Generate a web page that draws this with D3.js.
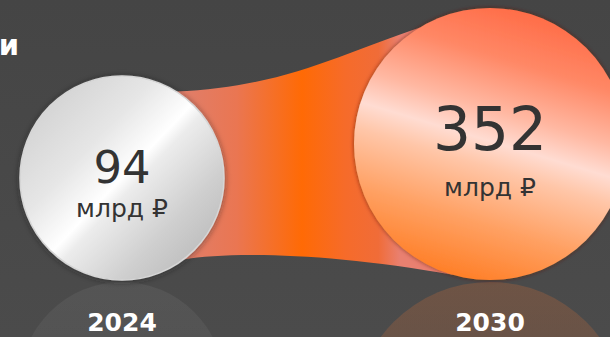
<!DOCTYPE html>
<html>
<head>
<meta charset="utf-8">
<script src="https://cdn.jsdelivr.net/npm/d3@7"></script>
<style>
  html, body { margin: 0; padding: 0; background: #474747; }
  svg { display: block; }
  text { font-family: "DejaVu Sans", Verdana, sans-serif; }
</style>
</head>
<body>
<svg id="chart" width="610" height="337"></svg>
<script>
// Market volume, billions of rubles
const years = ["2024", "2030"];
const values = [94, 352];
const unitLabel = "млрд ₽";
const titleTail = "и";

const W = 610, H = 337;
const svg = d3.select("#chart");
const defs = svg.append("defs");

// background
const bg = defs.append("linearGradient").attr("id", "bg")
  .attr("x1", 0).attr("y1", 0).attr("x2", 0).attr("y2", 1);
bg.append("stop").attr("offset", 0).attr("stop-color", "#454545");
bg.append("stop").attr("offset", 1).attr("stop-color", "#4b4b4b");
svg.append("rect").attr("width", W).attr("height", H).attr("fill", "url(#bg)");

// scales
const x = d3.scalePoint().domain(years).range([122, 490]);
const r = d3.scaleLinear().domain([94, 352]).range([102, 136]);
const floorY = 280; // circles rest on this line

const nodes = years.map((y, i) => ({
  year: y, value: values[i], cx: x(y), r: r(values[i]), cy: floorY - r(values[i])
}));

// gradients
const silver = defs.append("linearGradient").attr("id", "silver")
  .attr("x1", 0.1).attr("y1", 0.12).attr("x2", 0.9).attr("y2", 0.88);
[[0, "#d2d2d2"], [0.3, "#e6e6e6"], [0.47, "#fbfbfb"], [0.5, "#ffffff"],
 [0.56, "#ececec"], [0.8, "#cfcfcf"], [1, "#bdbdbd"]]
  .forEach(([o, c]) => silver.append("stop").attr("offset", o).attr("stop-color", c));

const coral = defs.append("linearGradient").attr("id", "coral")
  .attr("x1", 0.65).attr("y1", 0).attr("x2", 0.35).attr("y2", 1);
[[0, "#ff6a45"], [0.2, "#ff8866"], [0.38, "#ffb8a2"], [0.49, "#ffdcd2"],
 [0.58, "#ffc6a8"], [0.78, "#ffa062"], [1, "#ff7c22"]]
  .forEach(([o, c]) => coral.append("stop").attr("offset", o).attr("stop-color", c));

const band = defs.append("linearGradient").attr("id", "band")
  .attr("gradientUnits", "userSpaceOnUse")
  .attr("x1", nodes[0].cx + 60).attr("y1", 0).attr("x2", nodes[1].cx - 90).attr("y2", 0);
[[0, "#e07e6a"], [0.25, "#ea7652"], [0.55, "#ff6a05"], [0.75, "#f66b2a"], [0.9, "#f06c38"], [1, "#e98070"]]
  .forEach(([o, c]) => band.append("stop").attr("offset", o).attr("stop-color", c));

const reflGrey = defs.append("linearGradient").attr("id", "reflGrey")
  .attr("x1", 0).attr("y1", 0).attr("x2", 0).attr("y2", 1);
reflGrey.append("stop").attr("offset", 0).attr("stop-color", "#ffffff").attr("stop-opacity", 0.06);
reflGrey.append("stop").attr("offset", 0.5).attr("stop-color", "#ffffff").attr("stop-opacity", 0.035);
reflGrey.append("stop").attr("offset", 1).attr("stop-color", "#ffffff").attr("stop-opacity", 0);

const reflOrange = defs.append("linearGradient").attr("id", "reflOrange")
  .attr("x1", 0).attr("y1", 0).attr("x2", 0).attr("y2", 1);
reflOrange.append("stop").attr("offset", 0).attr("stop-color", "#ff7a30").attr("stop-opacity", 0.2);
reflOrange.append("stop").attr("offset", 0.5).attr("stop-color", "#ff7a30").attr("stop-opacity", 0.12);
reflOrange.append("stop").attr("offset", 1).attr("stop-color", "#ff7a30").attr("stop-opacity", 0);

const sh1 = defs.append("filter").attr("id", "shSilver")
  .attr("x", "-20%").attr("y", "-20%").attr("width", "140%").attr("height", "140%");
sh1.append("feDropShadow").attr("dx", 0).attr("dy", 1).attr("stdDeviation", 3)
  .attr("flood-color", "#202020").attr("flood-opacity", 0.55);
const sh2 = defs.append("filter").attr("id", "shCoral")
  .attr("x", "-20%").attr("y", "-20%").attr("width", "140%").attr("height", "140%");
sh2.append("feDropShadow").attr("dx", 0).attr("dy", 0).attr("stdDeviation", 2)
  .attr("flood-color", "#5a1e10").attr("flood-opacity", 0.7);

// reflections below the floor line
svg.selectAll("circle.refl").data(nodes).join("circle")
  .attr("class", "refl")
  .attr("cx", d => d.cx)
  .attr("cy", d => floorY + 2 + d.r)
  .attr("r", d => d.r)
  .attr("fill", (d, i) => i === 0 ? "url(#reflGrey)" : "url(#reflOrange)");

// connecting band
const pt = (n, deg) => {
  const a = deg * Math.PI / 180;
  return [n.cx + n.r * Math.cos(a), n.cy + n.r * Math.sin(a)];
};
const [a, b] = nodes;
const t0 = pt(a, -58), t3 = pt(b, -121);
const b0 = pt(a, 53), b3 = pt(b, 106);
const bandPath = d3.path();
bandPath.moveTo(...t0);
bandPath.bezierCurveTo(t0[0] + 105, t0[1] - 4, t3[0] - 80, t3[1] + 27, ...t3);
bandPath.lineTo(...b3);
bandPath.bezierCurveTo(b3[0] - 122, b3[1] - 22, b0[0] + 47, b0[1] - 8, ...b0);
bandPath.closePath();
svg.append("path").attr("d", bandPath.toString()).attr("fill", "url(#band)");

// circles
svg.selectAll("circle.node").data(nodes).join("circle")
  .attr("class", "node")
  .attr("cx", d => d.cx).attr("cy", d => d.cy).attr("r", d => d.r)
  .attr("fill", (d, i) => i === 0 ? "url(#silver)" : "url(#coral)")
  .attr("stroke", (d, i) => i === 0 ? "#d6d6d6" : "none")
  .attr("stroke-width", 1.5)
  .attr("filter", (d, i) => i === 0 ? "url(#shSilver)" : "url(#shCoral)");

// value labels
svg.selectAll("text.val").data(nodes).join("text")
  .attr("class", "val")
  .attr("x", d => d.cx)
  .attr("y", d => d.cy + d.r * 0.045)
  .attr("text-anchor", "middle")
  .attr("fill", "#333333")
  .attr("font-size", d => d.r * 0.44)
  .text(d => d.value);

svg.selectAll("text.unit").data(nodes).join("text")
  .attr("class", "unit")
  .attr("x", d => d.cx)
  .attr("y", d => d.cy + d.r * 0.38)
  .attr("text-anchor", "middle")
  .attr("fill", "#333333")
  .attr("font-size", 25)
  .text(unitLabel);

// year labels
svg.selectAll("text.year").data(nodes).join("text")
  .attr("class", "year")
  .attr("x", d => d.cx)
  .attr("y", 330.5)
  .attr("text-anchor", "middle")
  .attr("fill", "#ffffff")
  .attr("font-weight", "bold")
  .attr("font-size", 25)
  .text(d => d.year);

// tail of the heading line
svg.append("text")
  .attr("x", 19).attr("y", 55)
  .attr("text-anchor", "end")
  .attr("fill", "#ffffff")
  .attr("font-weight", "bold")
  .attr("font-size", 29)
  .text(titleTail);
</script>
</body>
</html>
